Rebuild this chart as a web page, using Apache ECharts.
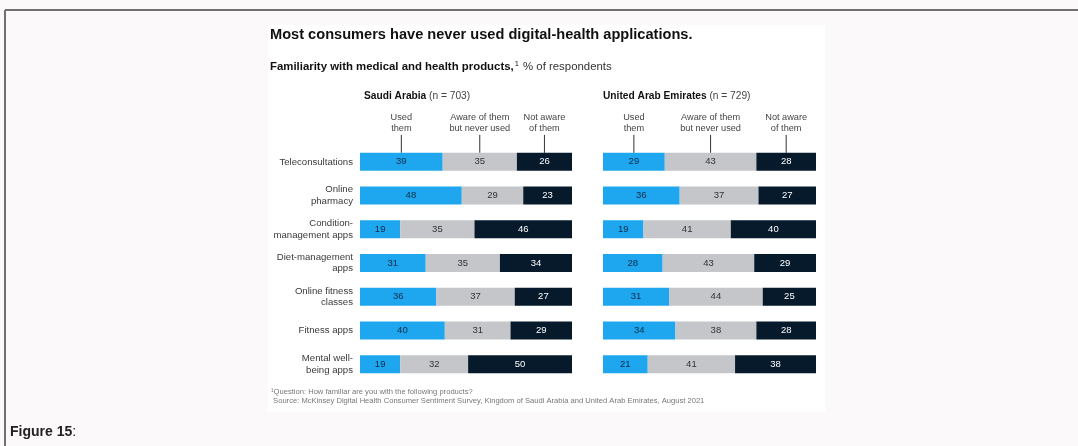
<!DOCTYPE html>
<html>
<head>
<meta charset="utf-8">
<script src="https://cdn.jsdelivr.net/npm/echarts@6/dist/echarts.min.js"></script>
<style>
  html, body { margin: 0; padding: 0; background: #fbf9fa; }
  #chart { width: 1078px; height: 446px; }
</style>
</head>
<body>
<div id="chart"></div>
<script>
// 数据
var categories = ['Teleconsultations', 'Online\npharmacy', 'Condition-\nmanagement apps',
  'Diet-management\napps', 'Online fitness\nclasses', 'Fitness apps', 'Mental well-\nbeing apps'];
var headers = ['Used\nthem', 'Aware of them\nbut never used', 'Not aware\nof them'];
var saUsed    = [39, 48, 19, 31, 36, 40, 19];
var saAware   = [35, 29, 35, 35, 37, 31, 32];
var saNot     = [26, 23, 46, 34, 27, 29, 50];
var uaeUsed   = [29, 36, 19, 28, 31, 34, 21];
var uaeAware  = [43, 37, 41, 43, 44, 38, 41];
var uaeNot    = [28, 27, 40, 29, 25, 28, 38];

var FONT = '"Liberation Sans", Arial, Helvetica, sans-serif';
var BLUE = '#1ea7ee', GRAY = '#c4c6c9', NAVY = '#061a2b';

var chart = echarts.init(document.getElementById('chart'));

function seg(name, data, color, textColor, grid) {
  return {
    type: 'bar', name: name, stack: 'g' + grid, data: data,
    xAxisIndex: grid, yAxisIndex: grid, barWidth: 18,
    itemStyle: { color: color },
    label: { show: true, position: 'inside', color: textColor,
             fontFamily: FONT, fontSize: 9.5 }
  };
}

function gridAxes(i) {
  return {
    x: { type: 'value', gridIndex: i, min: 0, max: 100, show: false },
    y: { type: 'category', gridIndex: i, data: categories, inverse: true,
         axisLine: { show: false }, axisTick: { show: false },
         axisLabel: { show: i === 0, color: '#3a3a3a', fontFamily: FONT,
                      fontSize: 9.6, lineHeight: 11.5, margin: 7, align: 'right' } }
  };
}
var a0 = gridAxes(0), a1 = gridAxes(1);

var baseGraphic = [
  // 外框 + 白色面板
  { type: 'line', shape: { x1: 5, y1: 10, x2: 1078, y2: 10 }, style: { stroke: '#707070', lineWidth: 2 } },
  { type: 'line', shape: { x1: 5, y1: 10, x2: 5, y2: 446 }, style: { stroke: '#707070', lineWidth: 2 } },
  { type: 'rect', shape: { x: 268, y: 25, width: 557, height: 387 }, style: { fill: '#ffffff' }, z: -1 },
  { type: 'text', left: 270, top: 27, style: {
      text: 'Most consumers have never used digital-health applications.',
      font: 'bold 14.6px ' + FONT, fill: '#111' } },
  { type: 'text', left: 270, top: 60, style: {
      text: '{b|Familiarity with medical and health products,}{s|1}{r| % of respondents}',
      rich: {
        b: { font: 'bold 11.4px ' + FONT, fill: '#111' },
        s: { font: '7.5px ' + FONT, fill: '#111', verticalAlign: 'top', padding: [0, 1, 5, 1] },
        r: { font: '11.4px ' + FONT, fill: '#333' }
      } } },
  { type: 'text', left: 364, top: 91, style: {
      text: '{b|Saudi Arabia}{r| (n = 703)}',
      rich: { b: { font: 'bold 10.2px ' + FONT, fill: '#111' }, r: { font: '10.2px ' + FONT, fill: '#444' } } } },
  { type: 'text', left: 603, top: 91, style: {
      text: '{b|United Arab Emirates}{r| (n = 729)}',
      rich: { b: { font: 'bold 10.2px ' + FONT, fill: '#111' }, r: { font: '10.2px ' + FONT, fill: '#444' } } } },
  { type: 'text', left: 271, top: 387, style: {
      text: '\u00b9Question: How familiar are you with the following products?\n Source: McKinsey Digital Health Consumer Sentiment Survey, Kingdom of Saudi Arabia and United Arab Emirates, August 2021',
      font: '7.6px ' + FONT, fill: '#777', lineHeight: 9 } },
  { type: 'text', left: 10, top: 425, style: {
      text: '{b|Figure 15}{r|:}',
      rich: { b: { font: 'bold 14px ' + FONT, fill: '#222' }, r: { font: '14px ' + FONT, fill: '#222' } } } }
];

chart.setOption({
  animation: false,
  grid: [
    { left: 360, top: 145, width: 212, height: 236 },
    { left: 603, top: 145, width: 213, height: 236 }
  ],
  xAxis: [a0.x, a1.x],
  yAxis: [a0.y, a1.y],
  series: [
    seg('Used them', saUsed, BLUE, '#0c2a48', 0),
    seg('Aware', saAware, GRAY, '#333', 0),
    seg('Not aware', saNot, NAVY, '#fff', 0),
    seg('Used them', uaeUsed, BLUE, '#0c2a48', 1),
    seg('Aware', uaeAware, GRAY, '#333', 1),
    seg('Not aware', uaeNot, NAVY, '#fff', 1)
  ],
  graphic: baseGraphic
});

// 表头:对齐第一行各段中心
var extra = [];
[[saUsed, saAware, saNot], [uaeUsed, uaeAware, uaeNot]].forEach(function (sets, g) {
  var cum = 0;
  sets.forEach(function (arr, k) {
    var mid = cum + arr[0] / 2;
    cum += arr[0];
    var p = chart.convertToPixel({ gridIndex: g }, [mid, categories[0]]);
    var barTop = p[1] - 9;
    extra.push({ type: 'line', shape: { x1: p[0], y1: barTop - 18, x2: p[0], y2: barTop },
                 style: { stroke: '#333', lineWidth: 1 } });
    extra.push({ type: 'text', x: p[0], y: barTop - 41, style: {
      text: headers[k], font: '9.2px ' + FONT, fill: '#444', align: 'center', lineHeight: 11 } });
  });
});
chart.setOption({ graphic: baseGraphic.concat(extra) });
</script>
</body>
</html>
